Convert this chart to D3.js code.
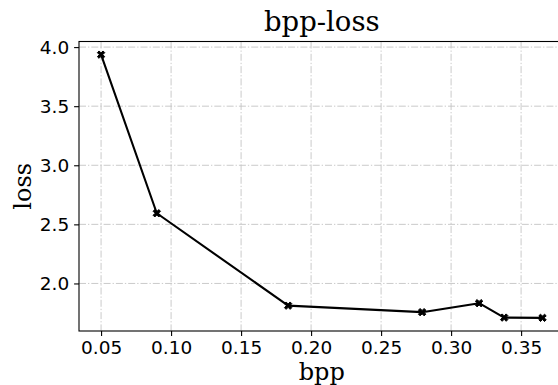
<!DOCTYPE html>
<html>
<head>
<meta charset="utf-8">
<script src="https://cdn.jsdelivr.net/npm/d3@7"></script>
<style>
  html, body { margin: 0; padding: 0; background: #fff; }
  svg { display: block; }
</style>
</head>
<body>
<div id="chart"></div>
<script>
const bpp  = [0.05, 0.0898, 0.1836, 0.2793, 0.3200, 0.3379, 0.3653];
const loss = [3.936, 2.594, 1.812, 1.757, 1.833, 1.711, 1.709];
const xTicks = [0.05, 0.10, 0.15, 0.20, 0.25, 0.30, 0.35];
const yTicks = [2.0, 2.5, 3.0, 3.5, 4.0];
const titleText = "bpp-loss";
const xLabelText = "bpp";
const yLabelText = "loss";

(function () {
const W = 558, H = 385;
const mLeft = 79, mRight = 564.6, mTop = 41.5, mBottom = 331;

const svg = d3.select("#chart").append("svg").attr("width", W).attr("height", H);

const xMin = d3.min(bpp), xMax = d3.max(bpp);
const yMin = d3.min(loss), yMax = d3.max(loss);
const xPad = (xMax - xMin) * 0.05, yPad = (yMax - yMin) * 0.05;

const x = d3.scaleLinear().domain([xMin - xPad, xMax + xPad]).range([mLeft, mRight]);
const y = d3.scaleLinear().domain([yMin - yPad, yMax + yPad]).range([mBottom, mTop]);

const gridStyle = g => g.attr("stroke", "#c4c4c4").attr("stroke-width", 0.9)
  .attr("stroke-dasharray", "7,2,1.3,2");

// grid
svg.append("g").selectAll("line").data(xTicks).join("line")
  .attr("x1", d => x(d)).attr("x2", d => x(d)).attr("y1", mTop).attr("y2", mBottom)
  .call(gridStyle);
svg.append("g").selectAll("line").data(yTicks).join("line")
  .attr("x1", mLeft).attr("x2", mRight).attr("y1", d => y(d)).attr("y2", d => y(d))
  .call(gridStyle);

const fontSans = "'DejaVu Sans', sans-serif";
const fontSerif = "'DejaVu Serif', serif";

const xAxis = svg.append("g").attr("transform", `translate(0,${mBottom})`)
  .call(d3.axisBottom(x).tickValues(xTicks).tickFormat(d3.format(".2f")).tickSizeOuter(0).tickSizeInner(4.9).tickPadding(4.9));
const yAxis = svg.append("g").attr("transform", `translate(${mLeft},0)`)
  .call(d3.axisLeft(y).tickValues(yTicks).tickFormat(d3.format(".1f")).tickSizeOuter(0).tickSizeInner(4.9).tickPadding(4.9));

[xAxis, yAxis].forEach(a => {
  a.select(".domain").remove();
  a.selectAll(".tick line").attr("stroke", "#000").attr("stroke-width", 1.1);
  a.selectAll(".tick text").attr("fill", "#000").style("font-family", fontSans).style("font-size", "18.5px");
});

// spines
svg.append("rect").attr("x", mLeft).attr("y", mTop).attr("width", mRight - mLeft).attr("height", mBottom - mTop)
  .attr("fill", "none").attr("stroke", "#000").attr("stroke-width", 1.1);

// line
const line = d3.line().x((d, i) => x(bpp[i])).y(d => y(d));
svg.append("path").datum(loss).attr("d", line)
  .attr("fill", "none").attr("stroke", "#000").attr("stroke-width", 2.1).attr("stroke-linejoin", "round");

// X markers (filled)
const s = 3.7, t = 1.7;
const xMarker = `M${-s},${-s+t}L${-s+t},${-s}L0,${-t}L${s-t},${-s}L${s},${-s+t}L${t},0L${s},${s-t}L${s-t},${s}L0,${t}L${-s+t},${s}L${-s},${s-t}L${-t},0Z`;
svg.append("g").selectAll("path").data(loss).join("path")
  .attr("d", xMarker)
  .attr("transform", (d, i) => `translate(${x(bpp[i])},${y(d)})`)
  .attr("fill", "#000").attr("stroke", "#000").attr("stroke-width", 1);

// title and labels
svg.append("text").attr("x", (mLeft + mRight) / 2).attr("y", 31).attr("text-anchor", "middle")
  .style("font-family", fontSerif).style("font-size", "27.5px").attr("fill", "#000").text(titleText);
svg.append("text").attr("x", (mLeft + mRight) / 2).attr("y", 379.5).attr("text-anchor", "middle")
  .style("font-family", fontSerif).style("font-size", "24px").attr("fill", "#000").text(xLabelText);
svg.append("text").attr("transform", `translate(31,${(mTop + mBottom) / 2}) rotate(-90)`).attr("text-anchor", "middle")
  .style("font-family", fontSerif).style("font-size", "24px").attr("fill", "#000").text(yLabelText);
})();
</script>
</body>
</html>
